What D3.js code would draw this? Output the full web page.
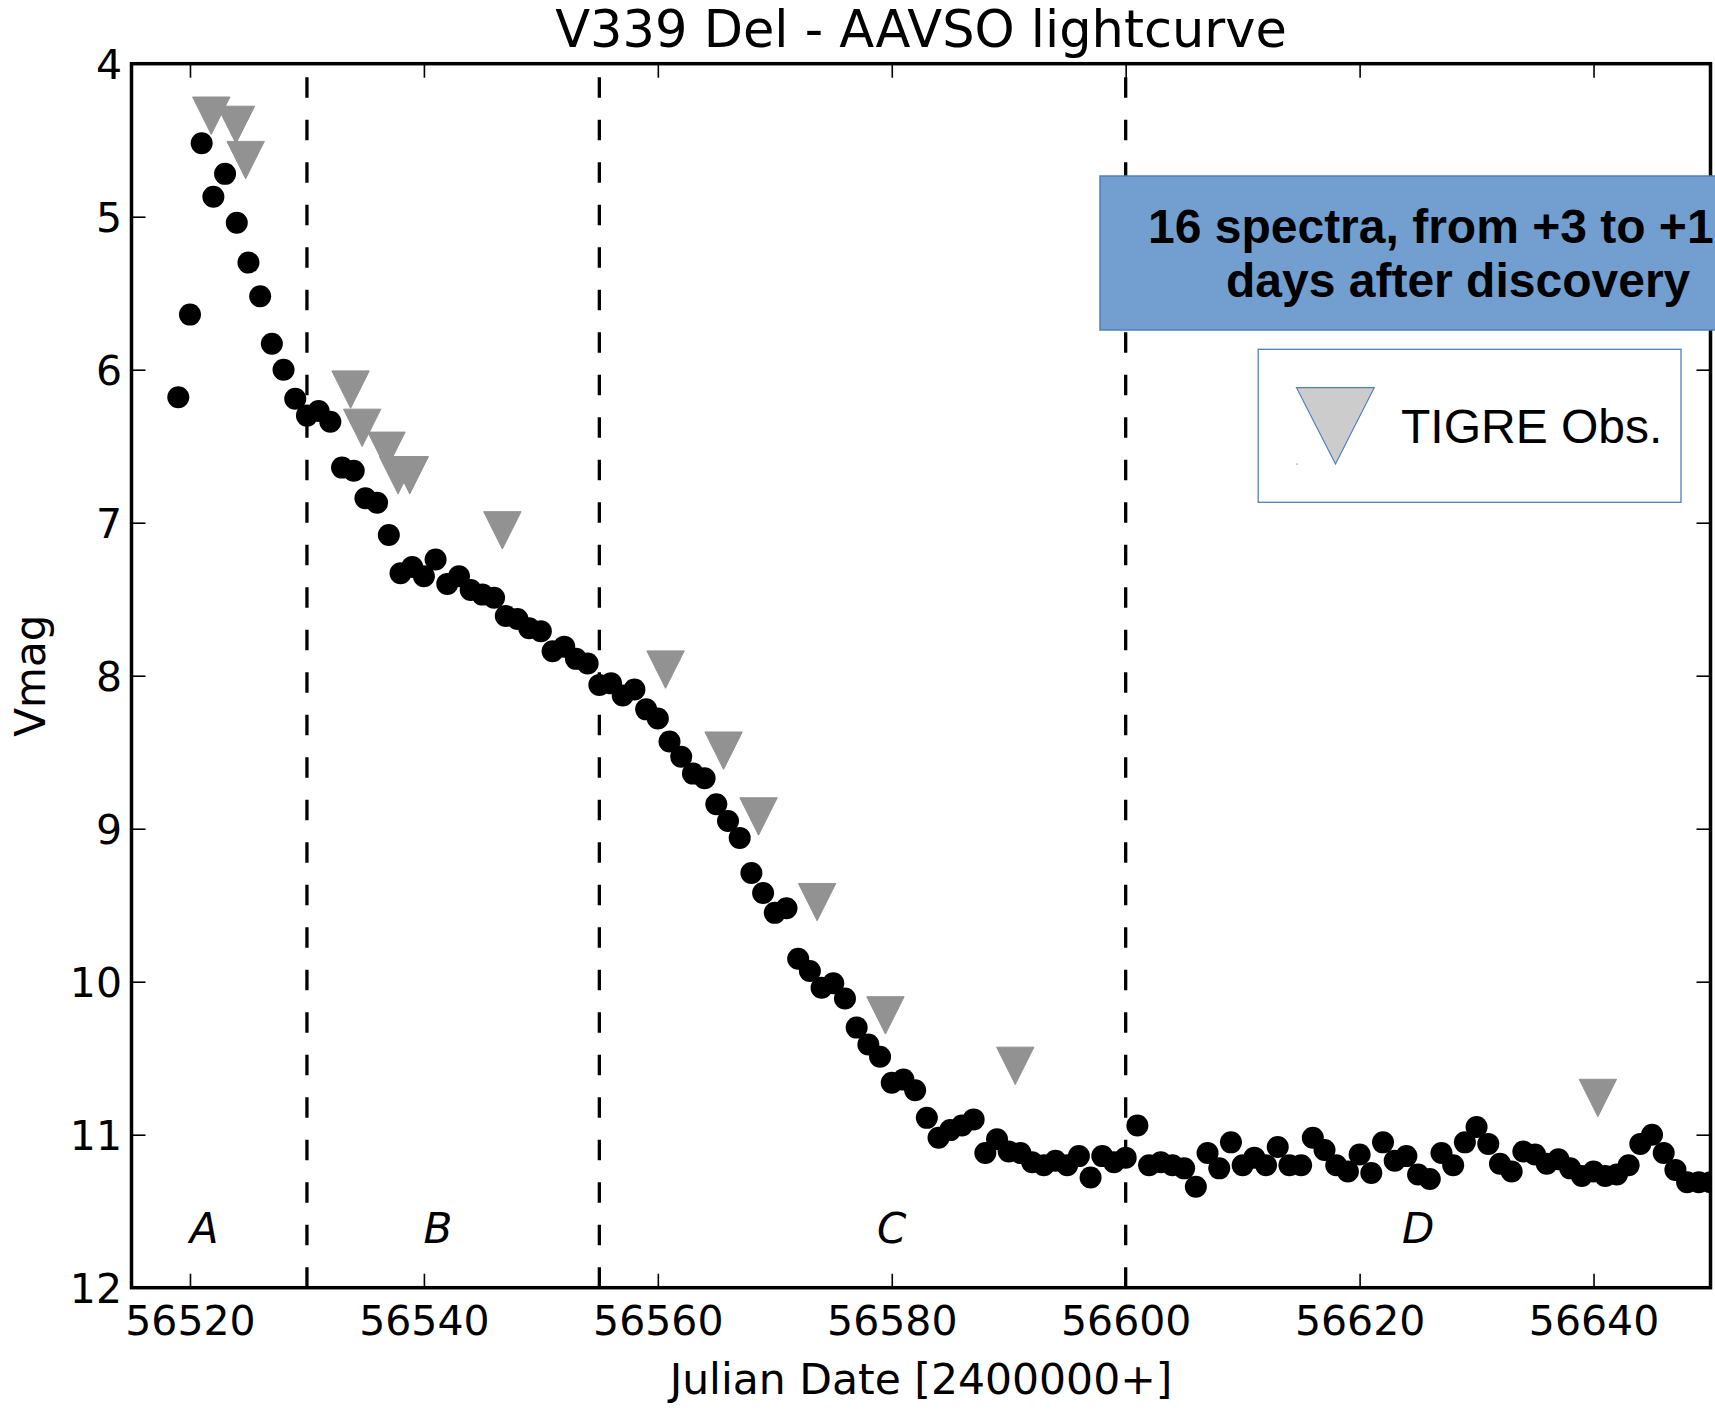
<!DOCTYPE html>
<html><head><meta charset="utf-8">
<script src="https://cdn.jsdelivr.net/npm/d3@7"></script>
<style>body{margin:0;background:#fff}</style>
</head><body>
<svg id="c" width="1715" height="1414" xmlns="http://www.w3.org/2000/svg"></svg>
<script>
// ---- Data ----
const aavsoJD = [56519,56520,56521,56522,56523,56524,56525,56526,56527,56528,56529,56530,56531,56532,56533,56534,56535,56536,56537,56538,56539,56540,56541,56542,56543,56544,56545,56546,56547,56548,56549,56550,56551,56552,56553,56554,56555,56556,56557,56558,56559,56560,56561,56562,56563,56564,56565,56566,56567,56568,56569,56570,56571,56572,56573,56574,56575,56576,56577,56578,56579,56580,56581,56582,56583,56584,56585,56586,56587,56588,56589,56590,56591,56592,56593,56594,56595,56596,56597,56598,56599,56600,56601,56602,56603,56604,56605,56606,56607,56608,56609,56610,56611,56612,56613,56614,56615,56616,56617,56618,56619,56620,56621,56622,56623,56624,56625,56626,56627,56628,56629,56630,56631,56632,56633,56634,56635,56636,56637,56638,56639,56640,56641,56642,56643,56644,56645,56646,56647,56648,56649,56650];
const aavsoVmag = [6.18,5.64,4.52,4.87,4.72,5.04,5.30,5.52,5.83,6.00,6.19,6.30,6.27,6.34,6.64,6.66,6.84,6.87,7.08,7.33,7.29,7.35,7.24,7.40,7.35,7.44,7.47,7.49,7.61,7.63,7.69,7.71,7.84,7.81,7.89,7.92,8.06,8.05,8.13,8.09,8.22,8.28,8.43,8.53,8.64,8.67,8.84,8.95,9.06,9.29,9.42,9.55,9.52,9.85,9.93,10.04,10.01,10.11,10.30,10.41,10.49,10.66,10.64,10.71,10.89,11.02,10.97,10.94,10.90,11.12,11.03,11.11,11.12,11.18,11.20,11.17,11.20,11.14,11.28,11.14,11.18,11.15,10.94,11.20,11.18,11.20,11.22,11.34,11.12,11.22,11.05,11.20,11.15,11.20,11.08,11.20,11.20,11.02,11.10,11.20,11.24,11.13,11.25,11.05,11.17,11.14,11.26,11.29,11.12,11.20,11.05,10.95,11.06,11.19,11.24,11.11,11.13,11.19,11.16,11.22,11.27,11.24,11.27,11.26,11.20,11.06,11.00,11.12,11.23,11.31,11.31,11.31];
const tigreJD = [56521.82,56523.93,56524.76,56533.73,56534.72,56536.80,56537.79,56538.79,56546.71,56560.66,56565.62,56568.61,56573.62,56579.46,56590.56,56640.37];
const tigreVmag = [4.34,4.40,4.63,6.13,6.38,6.53,6.69,6.69,7.05,7.96,8.49,8.92,9.48,10.22,10.55,10.76];
const phaseBounds = [56530,56555,56600];
const phaseLabels = ["A","B","C","D"];
const phaseLabelJD = [56521.2,56541.2,56580,56625];
const phaseLabelMag = 11.71;
const xTicks = [56520,56540,56560,56580,56600,56620,56640];
const yTicks = [4,5,6,7,8,9,10,11,12];
const titleText = "V339 Del - AAVSO lightcurve";
const xLabel = "Julian Date [2400000+]";
const yLabel = "Vmag";
const noteLines = ["16 spectra, from +3 to +1","days after discovery"];
const legendText = "TIGRE Obs.";

// ---- Layout ----
const L = 131.5, R = 1710.5, T = 63.7, B = 1287.7;
const FONT = "DejaVu Sans, sans-serif";
const svg = d3.select("#c");
const x = d3.scaleLinear().domain([56515, 56650]).range([L, R]);
const y = d3.scaleLinear().domain([4, 12]).range([T, B]);

svg.append("defs").append("clipPath").attr("id","plotclip")
  .append("rect").attr("x",L).attr("y",T).attr("width",R-L).attr("height",B-T);

// phase boundaries (dashed)
svg.append("g").selectAll("line").data(phaseBounds).join("line")
  .attr("x1", d => x(d)).attr("x2", d => x(d))
  .attr("y1", y(12)).attr("y2", y(4))
  .attr("stroke","#000").attr("stroke-width",3.3)
  .attr("stroke-dasharray","20.5,22");

// phase labels
svg.append("g").selectAll("text").data(phaseLabels).join("text")
  .attr("x", (d,i) => x(phaseLabelJD[i])).attr("y", y(phaseLabelMag))
  .attr("text-anchor","middle").attr("font-family",FONT)
  .attr("font-style","oblique").attr("font-size",42).text(d => d);

const plot = svg.append("g").attr("clip-path","url(#plotclip)");
// AAVSO points
plot.append("g").selectAll("circle").data(aavsoJD).join("circle")
  .attr("cx", d => x(d)).attr("cy", (d,i) => y(aavsoVmag[i]))
  .attr("r", 11).attr("fill","#000");
// TIGRE triangles
const hs = 18.7;
plot.append("g").selectAll("path").data(tigreJD).join("path")
  .attr("d", (d,i) => {
    const cx = x(d), cy = y(tigreVmag[i]);
    return `M${cx-hs},${cy-hs}L${cx+hs},${cy-hs}L${cx},${cy+hs}Z`;
  })
  .attr("fill","#929292").attr("stroke","#929292").attr("stroke-width",1)
  .attr("stroke-linejoin","round");

// axes
function styleAxis(g){
  g.select(".domain").remove();
  g.selectAll(".tick line").attr("stroke","#000").attr("stroke-width",1.6);
  g.selectAll(".tick text").attr("font-family",FONT).attr("font-size",41).attr("fill","#000");
}
svg.append("g").attr("transform",`translate(0,${B})`)
  .call(d3.axisBottom(x).tickValues(xTicks).tickSize(-14).tickPadding(18.5).tickFormat(d3.format("d")))
  .call(styleAxis);
svg.append("g").attr("transform",`translate(0,${T})`)
  .call(d3.axisTop(x).tickValues(xTicks).tickSize(-14).tickFormat(""))
  .call(styleAxis);
svg.append("g").attr("transform",`translate(${L},0)`)
  .call(d3.axisLeft(y).tickValues(yTicks).tickSize(-14).tickPadding(9.5).tickFormat(d3.format("d")))
  .call(styleAxis)
  .call(g => g.selectAll(".tick text").attr("dy","0.365em"));
svg.append("g").attr("transform",`translate(${R},0)`)
  .call(d3.axisRight(y).tickValues(yTicks).tickSize(-14).tickFormat(""))
  .call(styleAxis);

// frame
svg.append("rect").attr("x",L).attr("y",T).attr("width",R-L).attr("height",B-T)
  .attr("fill","none").attr("stroke","#000").attr("stroke-width",3.5);

// titles
svg.append("text").attr("x",(L+R)/2).attr("y",47).attr("text-anchor","middle")
  .attr("font-family",FONT).attr("font-size",51).text(titleText);
svg.append("text").attr("x",(L+R)/2).attr("y",1394).attr("text-anchor","middle")
  .attr("font-family",FONT).attr("font-size",42.5).text(xLabel);
svg.append("text").attr("transform","translate(45,675.7) rotate(-90)").attr("text-anchor","middle")
  .attr("font-family",FONT).attr("font-size",42).text(yLabel);

// annotation box
const NF = "Liberation Sans, Arial, sans-serif";
svg.append("rect").attr("x",1100).attr("y",176).attr("width",700).attr("height",154)
  .attr("fill","#729fcf").attr("stroke","#4f7fbd").attr("stroke-width",1.5);
svg.append("g").selectAll("text").data(noteLines).join("text")
  .attr("x",(d,i) => i===0 ? 1148 : 1226).attr("y",(d,i) => i===0 ? 243.3 : 296.7)
  .attr("font-family",NF).attr("font-weight","bold")
  .attr("font-size",48).attr("fill","#000").text(d => d);

// legend box
svg.append("rect").attr("x",1258.2).attr("y",349.3).attr("width",422.8).attr("height",153)
  .attr("fill","#fff").attr("stroke","#4f7fbd").attr("stroke-width",1.3);
svg.append("path").attr("d","M1296.5,387.7L1374.2,387.7L1335.5,464Z")
  .attr("fill","#cccccc").attr("stroke","#4f7fbd").attr("stroke-width",1.2);
svg.append("rect").attr("x",1296.5).attr("y",463.5).attr("width",1.2).attr("height",1.2).attr("fill","#4f7fbd");
svg.append("text").attr("x",1401).attr("y",443.3).attr("font-family",NF)
  .attr("font-size",48).attr("fill","#000").text(legendText);
</script>
</body></html>
